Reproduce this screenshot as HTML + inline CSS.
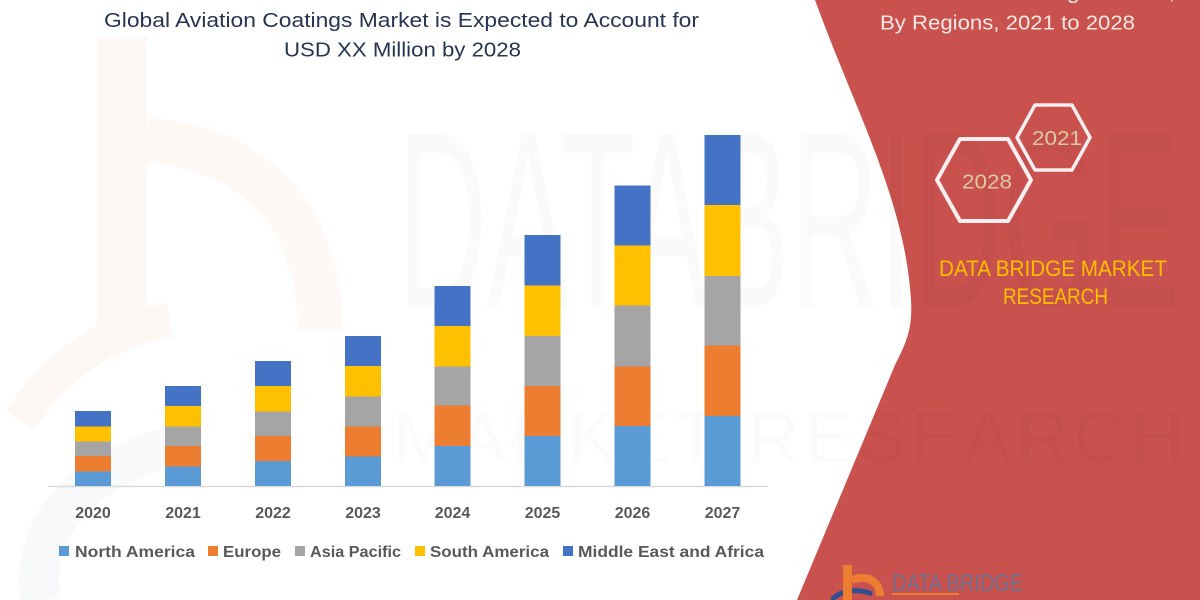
<!DOCTYPE html>
<html><head><meta charset="utf-8"><style>
html,body{margin:0;padding:0;background:#fff;}
svg{display:block;}
text{font-family:"Liberation Sans",sans-serif;}
</style></head><body>
<svg width="1200" height="600" viewBox="0 0 1200 600" xmlns="http://www.w3.org/2000/svg">
<rect width="1200" height="600" fill="#ffffff"/>
<!-- faint left logo watermark -->
<g opacity="0.045">
<rect x="97" y="37" width="50" height="300" fill="#ed7d31"/>
<path d="M147,140 C 260,150 320,220 320,330" fill="none" stroke="#ed7d31" stroke-width="45"/>
<path d="M20,420 C 60,360 110,330 170,320" fill="none" stroke="#ed7d31" stroke-width="35"/>
</g>
<path d="M40,600 C 30,520 90,460 200,440" fill="none" stroke="#c5cfdc" stroke-width="40" opacity="0.12"/>
<!-- red panel -->
<path d="M815,0 C 855,110 905,200 911,300 C 913,330 905,345 895,365 L797,600 L1200,600 L1200,0 Z" fill="#c9514e"/>
<!-- big watermark -->
<text x="398" y="307" font-size="252" textLength="782" lengthAdjust="spacingAndGlyphs" fill="rgba(0,0,0,0.018)">DATABRIDGE</text>
<text x="393" y="462" font-size="72" textLength="790" lengthAdjust="spacing" fill="rgba(0,0,0,0.014)">MARKET RESEARCH</text>
<!-- title -->
<text x="104" y="27" font-size="20" textLength="595" lengthAdjust="spacingAndGlyphs" fill="#273452">Global Aviation Coatings Market is Expected to Account for</text>
<text x="284" y="56.5" font-size="20" textLength="237" lengthAdjust="spacingAndGlyphs" fill="#273452">USD XX Million by 2028</text>
<!-- axis -->
<line x1="48" y1="486.5" x2="768" y2="486.5" stroke="#d9d9d9" stroke-width="1.5"/>
<!-- bars -->
<g>
<rect x="75" y="471.5" width="36" height="14.5" fill="#5b9bd5"/>
<rect x="75" y="456" width="36" height="15.5" fill="#ed7d31"/>
<rect x="75" y="441.5" width="36" height="14.5" fill="#a5a5a5"/>
<rect x="75" y="426.5" width="36" height="15" fill="#ffc000"/>
<rect x="75" y="411" width="36" height="15.5" fill="#4472c4"/>
<rect x="165" y="466.5" width="36" height="19.5" fill="#5b9bd5"/>
<rect x="165" y="446" width="36" height="20.5" fill="#ed7d31"/>
<rect x="165" y="426.5" width="36" height="19.5" fill="#a5a5a5"/>
<rect x="165" y="406" width="36" height="20.5" fill="#ffc000"/>
<rect x="165" y="386" width="36" height="20" fill="#4472c4"/>
<rect x="255" y="461" width="36" height="25" fill="#5b9bd5"/>
<rect x="255" y="436" width="36" height="25" fill="#ed7d31"/>
<rect x="255" y="411.5" width="36" height="24.5" fill="#a5a5a5"/>
<rect x="255" y="386" width="36" height="25.5" fill="#ffc000"/>
<rect x="255" y="361" width="36" height="25" fill="#4472c4"/>
<rect x="345" y="456.5" width="36" height="29.5" fill="#5b9bd5"/>
<rect x="345" y="426.5" width="36" height="30" fill="#ed7d31"/>
<rect x="345" y="396.5" width="36" height="30" fill="#a5a5a5"/>
<rect x="345" y="366" width="36" height="30.5" fill="#ffc000"/>
<rect x="345" y="336" width="36" height="30" fill="#4472c4"/>
<rect x="434.5" y="446" width="36" height="40" fill="#5b9bd5"/>
<rect x="434.5" y="405.5" width="36" height="40.5" fill="#ed7d31"/>
<rect x="434.5" y="366.5" width="36" height="39" fill="#a5a5a5"/>
<rect x="434.5" y="326" width="36" height="40.5" fill="#ffc000"/>
<rect x="434.5" y="286" width="36" height="40" fill="#4472c4"/>
<rect x="524.5" y="436" width="36" height="50" fill="#5b9bd5"/>
<rect x="524.5" y="386" width="36" height="50" fill="#ed7d31"/>
<rect x="524.5" y="336" width="36" height="50" fill="#a5a5a5"/>
<rect x="524.5" y="285.5" width="36" height="50.5" fill="#ffc000"/>
<rect x="524.5" y="235" width="36" height="50.5" fill="#4472c4"/>
<rect x="614.5" y="426" width="36" height="60" fill="#5b9bd5"/>
<rect x="614.5" y="366.5" width="36" height="59.5" fill="#ed7d31"/>
<rect x="614.5" y="305.5" width="36" height="61" fill="#a5a5a5"/>
<rect x="614.5" y="245.5" width="36" height="60" fill="#ffc000"/>
<rect x="614.5" y="185.5" width="36" height="60" fill="#4472c4"/>
<rect x="704.5" y="416" width="36" height="70" fill="#5b9bd5"/>
<rect x="704.5" y="345.5" width="36" height="70.5" fill="#ed7d31"/>
<rect x="704.5" y="276" width="36" height="69.5" fill="#a5a5a5"/>
<rect x="704.5" y="205" width="36" height="71" fill="#ffc000"/>
<rect x="704.5" y="135" width="36" height="70" fill="#4472c4"/>
</g>
<!-- year labels -->
<g font-size="16" font-weight="bold" fill="#595959" text-anchor="middle">
<text x="93" y="518">2020</text>
<text x="183" y="518">2021</text>
<text x="273" y="518">2022</text>
<text x="363" y="518">2023</text>
<text x="452.5" y="518">2024</text>
<text x="542.5" y="518">2025</text>
<text x="632.5" y="518">2026</text>
<text x="722.5" y="518">2027</text>
</g>
<!-- legend -->
<rect x="59" y="546" width="10" height="10" fill="#5b9bd5"/>
<rect x="208" y="546" width="10" height="10" fill="#ed7d31"/>
<rect x="295" y="546" width="10" height="10" fill="#a5a5a5"/>
<rect x="415" y="546" width="10" height="10" fill="#ffc000"/>
<rect x="563" y="546" width="10" height="10" fill="#4472c4"/>
<g font-size="16" font-weight="bold" fill="#595959">
<text x="75" y="557" textLength="120" lengthAdjust="spacingAndGlyphs">North America</text>
<text x="223" y="557" textLength="58" lengthAdjust="spacingAndGlyphs">Europe</text>
<text x="310" y="557" textLength="91" lengthAdjust="spacingAndGlyphs">Asia Pacific</text>
<text x="430" y="557" textLength="119" lengthAdjust="spacingAndGlyphs">South America</text>
<text x="578" y="557" textLength="186" lengthAdjust="spacingAndGlyphs">Middle East and Africa</text>
</g>
<!-- right panel texts -->
<text x="839" y="-1" font-size="20" textLength="336" lengthAdjust="spacingAndGlyphs" fill="#f9e8e3">Global Aviation Coatings Market,</text>
<text x="880" y="29.3" font-size="20" textLength="255" lengthAdjust="spacingAndGlyphs" fill="#f9e8e3">By Regions, 2021 to 2028</text>
<!-- hexagons -->
<path d="M1017,137.5 L1035,105 L1072,105 L1090,137.5 L1072,170 L1035,170 Z" fill="none" stroke="#fbeeee" stroke-width="3.5" stroke-linejoin="round"/>
<path d="M937,180 L960,139 L1008,139 L1031,180 L1008,221 L960,221 Z" fill="none" stroke="#fbeeee" stroke-width="4" stroke-linejoin="round"/>
<text x="1057" y="145" font-size="20" text-anchor="middle" textLength="50" lengthAdjust="spacingAndGlyphs" fill="#dccaa0">2021</text>
<text x="987" y="188.3" font-size="20" text-anchor="middle" textLength="50" lengthAdjust="spacingAndGlyphs" fill="#dccaa0">2028</text>
<text x="939" y="276" font-size="22" textLength="228" lengthAdjust="spacingAndGlyphs" fill="#ffc000">DATA BRIDGE MARKET</text>
<text x="1003" y="304" font-size="22" textLength="105" lengthAdjust="spacingAndGlyphs" fill="#ffc000">RESEARCH</text>
<!-- bottom logo -->
<path d="M832,600 C 840,590 858,588 872,594" fill="none" stroke="#2f4f8f" stroke-width="5"/>
<rect x="843" y="565" width="9" height="35" fill="#ed7d31"/>
<path d="M852,580 C 868,574 880,582 880,596" fill="none" stroke="#ed7d31" stroke-width="8"/>
<text x="892" y="591" font-size="24" textLength="131" lengthAdjust="spacingAndGlyphs" fill="#6d6f8c">DATA BRIDGE</text>
<rect x="892" y="593" width="67" height="2" fill="#ed7d31"/>
</svg>
</body></html>
